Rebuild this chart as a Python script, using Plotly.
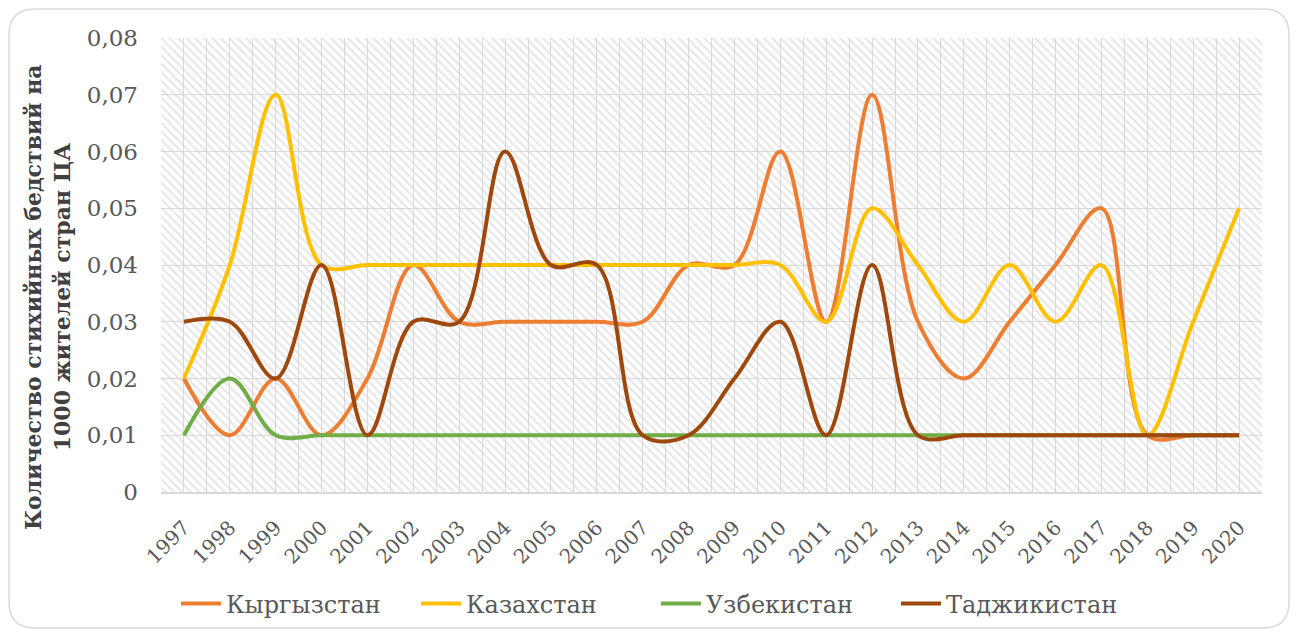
import plotly.graph_objects as go

years = [str(y) for y in range(1997, 2021)]
kyrgyzstan = [0.02, 0.01, 0.02, 0.01, 0.02, 0.04, 0.03, 0.03, 0.03, 0.03, 0.03, 0.04,
              0.04, 0.06, 0.03, 0.07, 0.03, 0.02, 0.03, 0.04, 0.05, 0.01, 0.01, 0.01]
kazakhstan = [0.02, 0.04, 0.07, 0.04, 0.04, 0.04, 0.04, 0.04, 0.04, 0.04, 0.04, 0.04,
              0.04, 0.04, 0.03, 0.05, 0.04, 0.03, 0.04, 0.03, 0.04, 0.01, 0.03, 0.05]
uzbekistan = [0.01, 0.02, 0.01, 0.01, 0.01, 0.01, 0.01, 0.01, 0.01, 0.01, 0.01, 0.01,
              0.01, 0.01, 0.01, 0.01, 0.01, 0.01, 0.01, 0.01, 0.01, 0.01, 0.01, 0.01]
tajikistan = [0.03, 0.03, 0.02, 0.04, 0.01, 0.03, 0.03, 0.06, 0.04, 0.04, 0.01, 0.01,
              0.02, 0.03, 0.01, 0.04, 0.01, 0.01, 0.01, 0.01, 0.01, 0.01, 0.01, 0.01]
series_names = ["Кыргызстан", "Казахстан", "Узбекистан", "Таджикистан"]
series_colors = ["#ED7D31", "#FFC000", "#70AD47", "#9E480E"]
y_tickvals = [0, 0.01, 0.02, 0.03, 0.04, 0.05, 0.06, 0.07, 0.08]
y_ticktext = ["0", "0,01", "0,02", "0,03", "0,04", "0,05", "0,06", "0,07", "0,08"]
y_title = "<b>Количество стихийных бедствий на<br>1000 жителей стран ЦА</b>"

FONT = "DejaVu Serif"

# page has an 8px body margin; figure occupies screen 8..1290 x 8..629
W, H = 1282, 621
ML, MR, MT, MB = 153, 28, 30, 137
PW, PH = W - ML - MR, H - MT - MB

n = len(years)
x_idx = list(range(n))
y_max = y_tickvals[-1]

fig = go.Figure()

# hatched plot-area background
fig.add_trace(go.Scatter(
    x=[-0.5, n - 0.5, n - 0.5, -0.5, -0.5],
    y=[0, 0, y_max, y_max, 0],
    mode="lines", fill="toself", line=dict(width=0),
    fillcolor="rgba(0,0,0,0)",
    fillpattern=dict(shape="\\", fgcolor="#d2d2d2", bgcolor="rgba(0,0,0,0)",
                     size=6, solidity=0.4),
    hoverinfo="skip", showlegend=False))

for name, vals, col in zip(series_names, [kyrgyzstan, kazakhstan, uzbekistan, tajikistan], series_colors):
    fig.add_trace(go.Scatter(
        x=x_idx, y=vals, name=name, mode="lines",
        line=dict(color=col, width=4, shape="spline", smoothing=1.0)))

def px_to_paper(px, py):
    return (px - ML) / PW, (H - MB - py) / PH

def P(px, py):
    a, b = px_to_paper(px, py)
    return f"{a:.5f},{b:.5f}"

# rounded outer border
x0, y0, x1, y1, r = 1, 1, W - 1, H - 1, 26
path = (f"M {P(x0 + r, y0)} L {P(x1 - r, y0)} Q {P(x1, y0)} {P(x1, y0 + r)} "
        f"L {P(x1, y1 - r)} Q {P(x1, y1)} {P(x1 - r, y1)} "
        f"L {P(x0 + r, y1)} Q {P(x0, y1)} {P(x0, y1 - r)} "
        f"L {P(x0, y0 + r)} Q {P(x0, y0)} {P(x0 + r, y0)} Z")
fig.add_shape(type="path", path=path, xref="paper", yref="paper",
              line=dict(color="#d9d9d9", width=1.5), layer="below")

ax_x, ax_y = px_to_paper(39, 289)
fig.add_annotation(text=y_title, xref="paper", yref="paper", x=ax_x, y=ax_y,
                   xanchor="center", yanchor="middle", textangle=-90, showarrow=False,
                   font=dict(family=FONT, size=22, color="#404040"),
                   align="center")

leg_x, leg_y = px_to_paper(648, 596)

fig.update_layout(
    width=W, height=H,
    margin=dict(l=ML, r=MR, t=MT, b=MB, autoexpand=False),
    paper_bgcolor="white", plot_bgcolor="white",
    font=dict(family=FONT, color="#595959"),
    showlegend=True,
    legend=dict(orientation="h", x=leg_x, y=leg_y, xanchor="center", yanchor="middle",
                font=dict(family=FONT, size=24, color="#595959"),
                itemwidth=40, entrywidth=185, entrywidthmode="pixels",
                traceorder="normal", bgcolor="rgba(0,0,0,0)"),
    xaxis=dict(range=[-0.5, n - 0.5], tickmode="array", tickvals=x_idx, ticktext=years,
               tickangle=-45, tickfont=dict(family=FONT, size=20, color="#595959"),
               ticks="outside", ticklen=14, tickcolor="rgba(0,0,0,0)",
               showgrid=True, gridcolor="#d9d9d9", gridwidth=1,
               minor=dict(tickmode="array", tickvals=[i - 0.5 for i in range(n + 1)],
                          showgrid=True, gridcolor="#d9d9d9", gridwidth=1, ticklen=0),
               showline=True, linecolor="#d9d9d9", linewidth=2, zeroline=False,
               fixedrange=True),
    yaxis=dict(range=[0, y_max], tickmode="array", tickvals=y_tickvals, ticktext=y_ticktext,
               tickfont=dict(family=FONT, size=23, color="#595959"),
               ticklabelstandoff=22,
               showgrid=True, gridcolor="#d9d9d9", gridwidth=1, zeroline=False,
               showline=False, ticks="", fixedrange=True),
)

fig.write_html("out.html")
